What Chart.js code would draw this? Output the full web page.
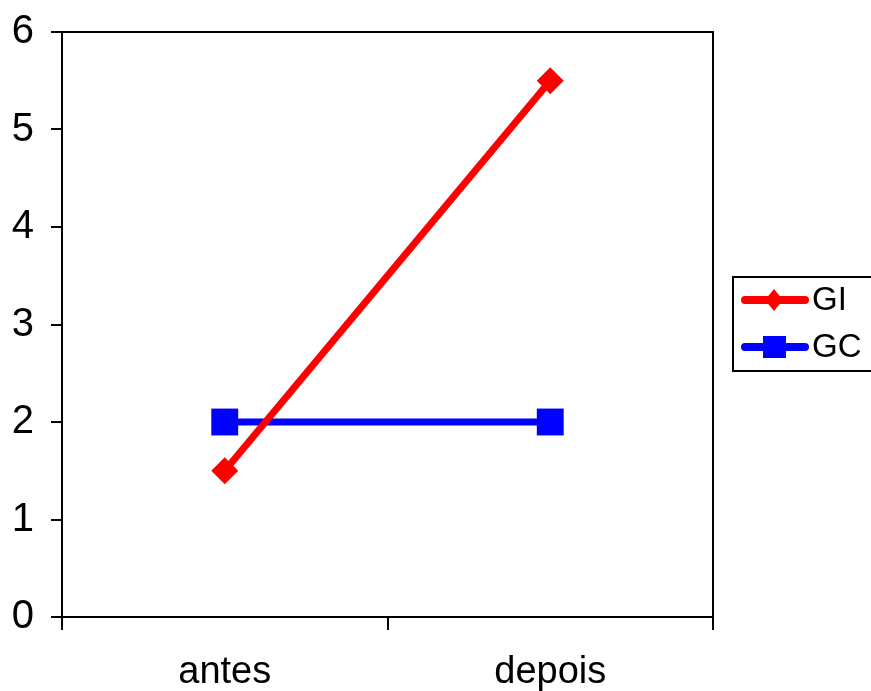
<!DOCTYPE html>
<html>
<head>
<meta charset="utf-8">
<script src="https://cdn.jsdelivr.net/npm/chart.js@4"></script>
<style>
  html, body { margin: 0; padding: 0; background: #fff; }
  #wrap { width: 871px; height: 691px; }
</style>
</head>
<body>
<div id="wrap"><canvas id="chart" width="871" height="691"></canvas></div>
<script>
// ========== Data ==========
const categories = ["antes", "depois"];
const giValues = [1.5, 5.5];
const gcValues = [2, 2];
const yTicks = [0, 1, 2, 3, 4, 5, 6];

const FONT = "'Liberation Sans', Arial, sans-serif";

// frame round the plot area
const framePlugin = {
  id: "frame",
  afterDraw(chart) {
    const { ctx, chartArea: a } = chart;
    ctx.save();
    ctx.strokeStyle = "#000";
    ctx.lineWidth = 2;
    ctx.strokeRect(a.left, a.top, a.right - a.left, a.bottom - a.top);
    ctx.restore();
  }
};

// boxed legend like the old office one
const boxLegend = {
  id: "boxLegend",
  afterDraw(chart) {
    const ctx = chart.ctx;
    const x0 = 733, y0 = 277, w = 142, h = 94;
    ctx.save();
    ctx.strokeStyle = "#000";
    ctx.lineWidth = 2;
    ctx.strokeRect(x0, y0, w, h);
    const rows = [300, 347];
    chart.data.datasets.forEach((ds, i) => {
      const y = rows[i];
      ctx.strokeStyle = ds.borderColor;
      ctx.lineWidth = 8;
      ctx.lineCap = "round";
      ctx.beginPath();
      ctx.moveTo(745, y);
      ctx.lineTo(805, y);
      ctx.stroke();
      ctx.fillStyle = ds.backgroundColor;
      ctx.beginPath();
      if (ds.pointStyle === "rectRot") {
        ctx.moveTo(774 - 9, y);
        ctx.lineTo(774, y - 11);
        ctx.lineTo(774 + 9, y);
        ctx.lineTo(774, y + 11);
      } else {
        ctx.rect(774 - 11, y - 11, 23, 22);
      }
      ctx.closePath();
      ctx.fill();
      ctx.fillStyle = "#000";
      ctx.font = "33px " + FONT;
      ctx.textBaseline = "middle";
      ctx.textAlign = "left";
      ctx.fillText(ds.label, 812, y + 1);
    });
    ctx.restore();
  }
};

const chart = new Chart(document.getElementById("chart"), {
  type: "line",
  data: {
    labels: categories,
    datasets: [
      {
        label: "GI",
        data: giValues,
        borderColor: "#ff0000",
        backgroundColor: "#ff0000",
        borderWidth: 7,
        pointStyle: "rectRot",
        pointRadius: 13.5,
        pointHoverRadius: 13.5,
        pointBorderWidth: 0
      },
      {
        label: "GC",
        data: gcValues,
        borderColor: "#0000ff",
        backgroundColor: "#0000ff",
        borderWidth: 7,
        pointStyle: "rect",
        pointRadius: 19,
        pointHoverRadius: 19,
        pointBorderWidth: 0
      }
    ]
  },
  options: {
    responsive: false,
    animation: false,
    events: [],
    layout: { padding: { top: 32, right: 158, left: 0, bottom: 0 } },
    plugins: {
      legend: { display: false },
      tooltip: { enabled: false }
    },
    scales: {
      x: {
        type: "category",
        offset: true,
        grid: {
          offset: true,
          drawOnChartArea: false,
          color: "#000",
          lineWidth: 2,
          tickLength: 13
        },
        border: { color: "#000", width: 2 },
        ticks: {
          color: "#000",
          font: { family: FONT, size: 38 },
          padding: 20,
          maxRotation: 0
        },
        afterFit(scale) {
          scale.height = 74;
          scale.paddingLeft = 0;
          scale.paddingRight = 0;
        }
      },
      y: {
        min: 0,
        max: 6,
        afterBuildTicks(scale) { scale.ticks = yTicks.map(v => ({ value: v })); },
        grid: {
          drawOnChartArea: false,
          color: "#000",
          lineWidth: 2,
          tickLength: 11
        },
        border: { color: "#000", width: 2 },
        ticks: {
          color: "#000",
          font: { family: FONT, size: 40 },
          padding: 17
        },
        afterFit(scale) {
          scale.width = 62;
          scale.paddingTop = 0;
          scale.paddingBottom = 0;
        }
      }
    }
  },
  plugins: [framePlugin, boxLegend]
});
</script>
</body>
</html>
